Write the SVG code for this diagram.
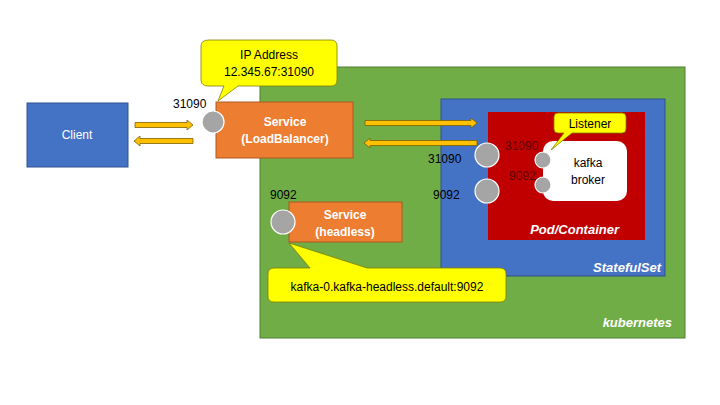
<svg xmlns="http://www.w3.org/2000/svg" width="720" height="405" viewBox="0 0 720 405">
<style>
text{font-family:"Liberation Sans","Open Sans",sans-serif;font-size:12px;}
.w{fill:#fff;font-weight:bold;}
.wi{fill:#fff;font-weight:bold;font-style:italic;font-size:13px;}
.k{fill:#000;}
.port{fill:#A5A5A5;stroke:#fff;stroke-width:1.2;}
.arr{fill:#FFC000;stroke:#7F6000;stroke-width:0.8;}
.call{fill:#FFFF00;stroke:#7F7F00;stroke-width:0.8;}
</style>
<rect width="720" height="405" fill="#fff"/>
<g id="kubernetes">
<rect x="260" y="67" width="425" height="271" fill="#70AD47" stroke="#507E32" stroke-width="1"/>
<text class="wi" x="672" y="327" text-anchor="end">kubernetes</text>
</g>
<g id="statefulset">
<rect x="441" y="99" width="224" height="177" fill="#4472C4" stroke="#2F528F" stroke-width="1"/>
<text class="wi" x="661" y="272" text-anchor="end">StatefulSet</text>
</g>
<g id="pod">
<rect x="488" y="112" width="157" height="128" fill="#C00000"/>
<text class="wi" x="619" y="234" text-anchor="end">Pod/Container</text>
</g>
<g id="broker">
<rect x="543" y="141" width="84" height="60" rx="10" fill="#fff"/>
<text class="k" x="588" y="167" text-anchor="middle">kafka</text>
<text class="k" x="588" y="184" text-anchor="middle">broker</text>
<circle class="port" cx="543" cy="160" r="8"/>
<circle class="port" cx="543" cy="185" r="8"/>
<text x="505" y="150" fill="#600000">31090</text>
<text x="509" y="180" fill="#600000">9092</text>
</g>
<g id="listener">
<path class="call" d="M558,113 H622 Q626,113 626,117 V129 Q626,133 622,133 H572 L551,150 L564,133 H558 Q554,133 554,129 V117 Q554,113 558,113 Z"/>
<text class="k" x="590" y="128" text-anchor="middle">Listener</text>
</g>
<g id="pod-ports">
<circle class="port" cx="487" cy="155" r="12"/>
<circle class="port" cx="487" cy="191" r="12"/>
<text class="k" x="428" y="163">31090</text>
<text class="k" x="433" y="199">9092</text>
</g>
<g id="client">
<rect x="27" y="103" width="101" height="64" fill="#4472C4" stroke="#2F528F" stroke-width="1"/>
<text x="77" y="139" text-anchor="middle" fill="#fff">Client</text>
</g>
<g id="service-lb">
<rect x="216" y="102" width="137" height="56" fill="#ED7D31" stroke="#AE5A21" stroke-width="1"/>
<text class="w" x="285" y="126" text-anchor="middle">Service</text>
<text class="w" x="285" y="143" text-anchor="middle">(LoadBalancer)</text>
<circle class="port" cx="213" cy="122" r="11"/>
<text class="k" x="173" y="108">31090</text>
</g>
<g id="ip-callout">
<path class="call" d="M209,40 H331 Q337,40 337,46 V80 Q337,86 331,86 H238 L218,101 L224,86 H209 Q201,86 201,80 V46 Q201,40 209,40 Z"/>
<text class="k" x="269" y="59" text-anchor="middle">IP Address</text>
<text class="k" x="269" y="76" text-anchor="middle">12.345.67:31090</text>
</g>
<g id="service-headless">
<rect x="289" y="202" width="113" height="40" fill="#ED7D31" stroke="#AE5A21" stroke-width="1"/>
<text class="w" x="345" y="219" text-anchor="middle">Service</text>
<text class="w" x="345" y="236" text-anchor="middle">(headless)</text>
<circle class="port" cx="283" cy="222" r="12"/>
<text class="k" x="270" y="199">9092</text>
</g>
<g id="dns-callout">
<path class="call" d="M274,268 H310 L289,243 L367,268 H500 Q506,268 506,274 V296 Q506,302 500,302 H274 Q268,302 268,296 V274 Q268,268 274,268 Z"/>
<text class="k" x="387" y="291" text-anchor="middle">kafka-0.kafka-headless.default:9092</text>
</g>
<g id="connectors">
<path class="arr" d="M135,122.5 H187 V120 L193,125 L187,130 V127.5 H135 Z"/>
<path class="arr" d="M193,138.5 H140 V136 L134,141 L140,146 V143.5 H193 Z"/>
<path class="arr" d="M365,120.5 H471 V118 L477,123 L471,128 V125.5 H365 Z"/>
<path class="arr" d="M477,140.5 H370 V138 L364,143 L370,148 V145.5 H477 Z"/>
</g>
</svg>
